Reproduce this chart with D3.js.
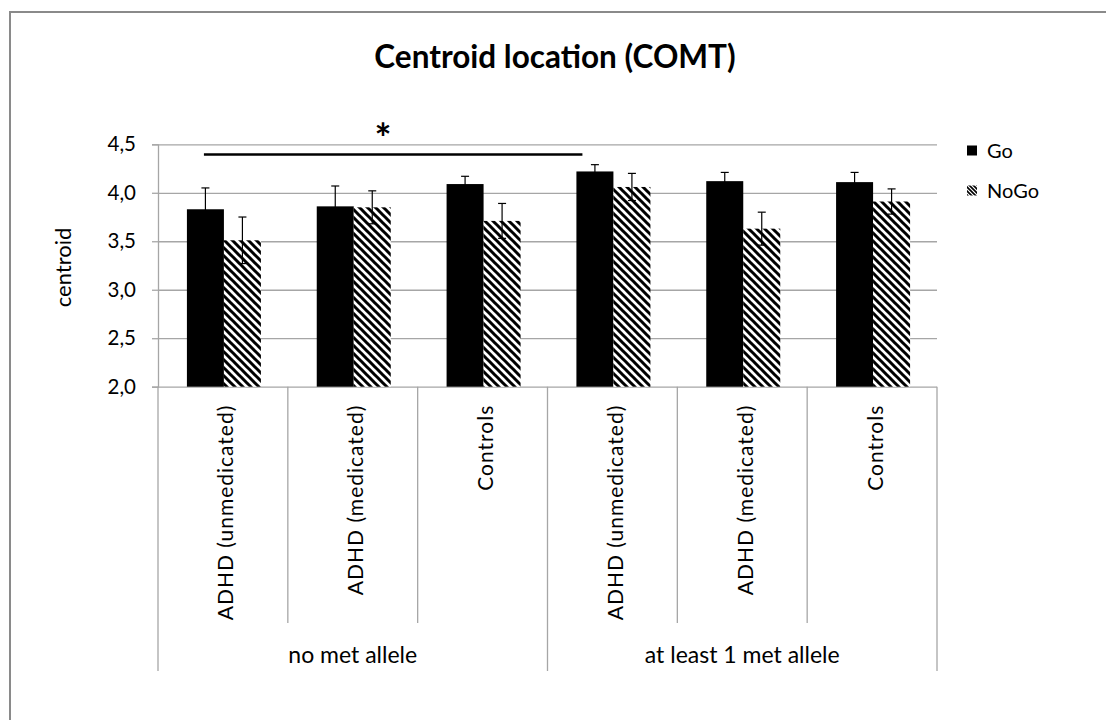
<!DOCTYPE html>
<html>
<head>
<meta charset="utf-8">
<script src="https://cdn.jsdelivr.net/npm/d3@7/dist/d3.min.js"></script>
<style>
  html, body { margin: 0; padding: 0; background: #fff; }
  svg { display: block; font-family: Lato, "Open Sans", sans-serif; }
</style>
</head>
<body>
<svg id="chart" width="1106" height="720"></svg>
<script>
// Centroid location by COMT genotype group, Go vs NoGo trials
const categories = ["ADHD (unmedicated)", "ADHD (medicated)", "Controls",
                    "ADHD (unmedicated)", "ADHD (medicated)", "Controls"];
const groups = ["no met allele", "at least 1 met allele"];
const groupSizes = [3, 3];
const seriesNames = ["Go", "NoGo"];
const goValues = [3.83, 3.86, 4.09, 4.22, 4.12, 4.11];
const goErrors = [0.22, 0.21, 0.08, 0.07, 0.09, 0.10];
const nogoValues = [3.51, 3.85, 3.71, 4.06, 3.63, 3.91];
const nogoErrors = [0.24, 0.17, 0.18, 0.14, 0.17, 0.13];
const yTicks = [2.0, 2.5, 3.0, 3.5, 4.0, 4.5];
const titleText = "Centroid location (COMT)";
const yTitle = "centroid";
// significance bracket: first ADHD (unmedicated) vs the second one
const sigPair = [0, 3];
const sigLabel = "*";

const svg = d3.select("#chart");
const gridColor = "#a6a6a6";

// pattern for NoGo bars: wide downward diagonal stripes
const defs = svg.append("defs");
const pat = defs.append("pattern")
  .attr("id", "hatch").attr("patternUnits", "userSpaceOnUse")
  .attr("width", 8).attr("height", 8);
pat.append("rect").attr("width", 8).attr("height", 8).attr("fill", "#fff");
pat.append("path")
  .attr("d", "M-1,-1 L9,9 M-1,7 L1,9 M7,-1 L9,1")
  .attr("stroke", "#000").attr("stroke-width", 3).attr("stroke-linecap", "square");
const patL = defs.append("pattern")
  .attr("id", "hatchSmall").attr("patternUnits", "userSpaceOnUse")
  .attr("width", 4).attr("height", 4);
patL.append("rect").attr("width", 4).attr("height", 4).attr("fill", "#fff");
patL.append("path")
  .attr("d", "M-1,-1 L5,5 M-1,3 L1,5 M3,-1 L5,1")
  .attr("stroke", "#000").attr("stroke-width", 1.6);

// outer chart frame
svg.append("rect")
  .attr("x", 10).attr("y", 12).attr("width", 1300).attr("height", 900)
  .attr("fill", "#fff").attr("stroke", "#8a8a8a").attr("stroke-width", 2);

const plotLeft = 158, plotRight = 937, plotTop = 144.3, plotBottom = 386.7;
const innerSepBottom = 623, outerSepBottom = 671;

const y = d3.scaleLinear().domain([2, 4.5]).range([plotBottom, plotTop]);
const x0 = d3.scaleBand().domain(d3.range(categories.length)).range([plotLeft, plotRight]);
const pairWidth = x0.bandwidth() * 0.57;
const x1 = d3.scaleBand().domain(seriesNames).range([0, pairWidth]);
const pairOffset = (x0.bandwidth() - pairWidth) / 2 + 1;

// gridlines
svg.append("g")
  .attr("transform", `translate(${plotLeft},0)`)
  .call(d3.axisLeft(y).tickValues(yTicks).tickSize(-(plotRight - plotLeft)).tickFormat(""))
  .call(g => g.select(".domain").remove())
  .call(g => g.selectAll("line").attr("stroke", gridColor).attr("stroke-width", 1.3));

// y axis with tick marks and comma-decimal labels
svg.append("g")
  .attr("transform", `translate(${plotLeft},0)`)
  .call(d3.axisLeft(y).tickValues(yTicks).tickSize(6).tickPadding(16)
        .tickFormat(d => d.toFixed(1).replace(".", ",")))
  .call(g => g.select(".domain").attr("stroke", gridColor).attr("stroke-width", 1.3))
  .call(g => g.selectAll("line").attr("stroke", gridColor).attr("stroke-width", 1.3))
  .call(g => g.selectAll("text").attr("fill", "#000")
        .attr("font-family", "Lato, sans-serif").attr("font-size", 20.5));

// category table lines below the axis
const sepBounds = d3.range(categories.length + 1);
const groupEdges = [0];
groupSizes.reduce((acc, n) => { groupEdges.push(acc + n); return acc + n; }, 0);
svg.append("g").selectAll("line").data(sepBounds).join("line")
  .attr("x1", i => i < categories.length ? x0(i) : plotRight)
  .attr("x2", i => i < categories.length ? x0(i) : plotRight)
  .attr("y1", plotBottom)
  .attr("y2", i => groupEdges.includes(i) ? outerSepBottom : innerSepBottom)
  .attr("stroke", gridColor).attr("stroke-width", 1.3);

// bars
const barData = categories.map((c, i) => [
  { i, s: "Go", v: goValues[i], e: goErrors[i] },
  { i, s: "NoGo", v: nogoValues[i], e: nogoErrors[i] }
]).flat();

svg.append("g").selectAll("rect").data(barData).join("rect")
  .attr("x", d => x0(d.i) + pairOffset + x1(d.s))
  .attr("y", d => y(d.v))
  .attr("width", x1.bandwidth())
  .attr("height", d => y(2) - y(d.v))
  .attr("fill", d => d.s === "Go" ? "#000" : "url(#hatch)");

// error bars
const capHalf = 4;
const eb = svg.append("g").attr("stroke", "#000").attr("stroke-width", 1.2);
barData.forEach(d => {
  const cx = x0(d.i) + pairOffset + x1(d.s) + x1.bandwidth() / 2;
  eb.append("line").attr("x1", cx).attr("x2", cx)
    .attr("y1", y(d.v - d.e)).attr("y2", y(d.v + d.e));
  [d.v - d.e, d.v + d.e].forEach(v => {
    eb.append("line").attr("x1", cx - capHalf).attr("x2", cx + capHalf)
      .attr("y1", y(v)).attr("y2", y(v));
  });
});

// category labels, rotated, top-aligned under the axis
svg.append("g").selectAll("text").data(categories).join("text")
  .attr("transform", (d, i) => `translate(${x0(i) + x0.bandwidth() / 2 + 10.5},${plotBottom + 18}) rotate(-90)`)
  .attr("text-anchor", "end")
  .attr("font-size", 21)
  .attr("letter-spacing", 1)
  .attr("fill", "#000")
  .text(d => d);

// group labels
let start = 0;
groups.forEach((g, k) => {
  const a = x0(start);
  const b = start + groupSizes[k] < categories.length ? x0(start + groupSizes[k]) : plotRight;
  svg.append("text")
    .attr("x", (a + b) / 2).attr("y", 663)
    .attr("text-anchor", "middle").attr("font-size", 23).attr("fill", "#000")
    .text(g);
  start += groupSizes[k];
});

// title
svg.append("text")
  .attr("x", 555).attr("y", 67.5)
  .attr("text-anchor", "middle").attr("font-size", 31.5).attr("font-weight", "bold")
  .attr("fill", "#000")
  .text(titleText);

// y axis title
svg.append("text")
  .attr("transform", `translate(70.7,${(plotTop + plotBottom) / 2 + 2}) rotate(-90)`)
  .attr("text-anchor", "middle").attr("font-size", 22).attr("fill", "#000")
  .text(yTitle);

// significance bracket
const sigStart = x0(sigPair[0]) + pairOffset + x1("Go") + x1.bandwidth() / 2 - 1.5;
const sigEnd = x0(sigPair[1]) + pairOffset + 6;
const sigY = 154.5;
svg.append("line")
  .attr("x1", sigStart).attr("x2", sigEnd).attr("y1", sigY).attr("y2", sigY)
  .attr("stroke", "#000").attr("stroke-width", 2.6);
svg.append("text")
  .attr("x", 383).attr("y", 153)
  .attr("text-anchor", "middle").attr("font-size", 40).attr("font-weight", "bold")
  .attr("fill", "#000")
  .text(sigLabel);

// legend
const legend = svg.append("g");
seriesNames.forEach((s, k) => {
  const ly = 151 + k * 40;
  legend.append("rect")
    .attr("x", 967).attr("y", ly - 5.5).attr("width", 10).attr("height", 10)
    .attr("fill", s === "Go" ? "#000" : "url(#hatchSmall)");
  legend.append("text")
    .attr("x", 987).attr("y", ly + 7)
    .attr("font-size", 20).attr("fill", "#000")
    .text(s);
});
</script>
</body>
</html>
